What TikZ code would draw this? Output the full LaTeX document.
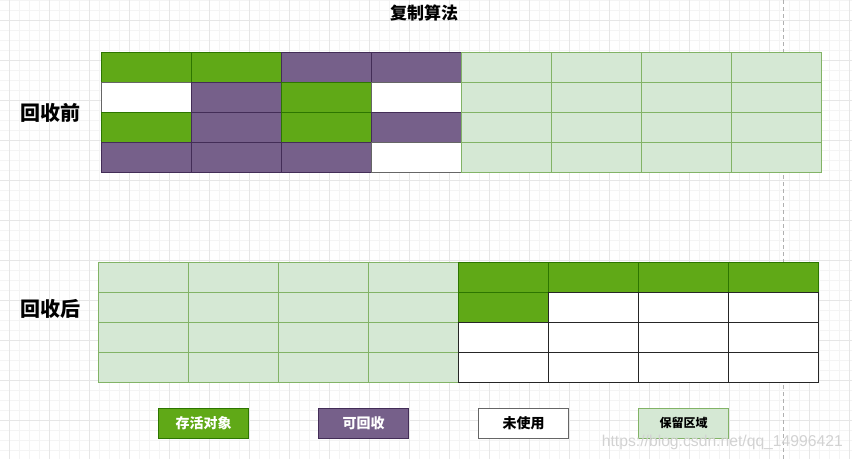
\documentclass[tikz,border=0pt]{standalone}
\usepackage{fontspec}
\setmainfont{Liberation Sans}
\newfontfamily\cjk{Noto Sans CJK SC}
\definecolor{gF}{HTML}{60A917}
\definecolor{gD}{HTML}{2D7600}
\definecolor{pF}{HTML}{76608A}
\definecolor{pD}{HTML}{432D57}
\definecolor{lF}{HTML}{D5E8D4}
\definecolor{lD}{HTML}{82B366}
\definecolor{wD}{HTML}{666666}
\definecolor{minorC}{HTML}{F4F4F4}
\definecolor{majorC}{HTML}{E6E6E6}
\definecolor{dashC}{HTML}{B0B0B0}
\definecolor{wmC}{HTML}{D2D2D2}
\tikzset{
  cellbase/.style={rectangle, minimum width=90pt, minimum height=30pt, inner sep=0pt, outer sep=0pt, line width=1pt},
  cellG/.style={cellbase, fill=gF, draw=gD},
  cellP/.style={cellbase, fill=pF, draw=pD},
  cellW/.style={cellbase, fill=white, draw=wD},
  cellB/.style={cellbase, fill=white, draw=black!85},
  cellL/.style={cellbase, fill=lF, draw=lD},
  sidelabel/.style={font=\cjk\bfseries\fontsize{20}{24}\selectfont, inner sep=0pt},
  legtext/.style={font=\cjk\bfseries\fontsize{14}{16}\selectfont},
}
\begin{document}
\begin{tikzpicture}[x=1pt,y=-1pt]
\useasboundingbox (0,0) rectangle (852,459);
\fill[white] (0,0) rectangle (852,459);
% background grid
\foreach \i in {0,...,85} \draw[minorC, line width=0.8pt] ({-0.7+10*\i},0) -- ({-0.7+10*\i},459);
\foreach \i in {0,...,45} \draw[minorC, line width=0.8pt] (0,{10*\i}) -- (852,{10*\i});
\foreach \i in {0,...,21} \draw[majorC, line width=0.8pt] ({9.3+40*\i},0) -- ({9.3+40*\i},459);
\foreach \i in {0,...,11} \draw[majorC, line width=0.8pt] (0,{20+40*\i}) -- (852,{20+40*\i});
% dashed guide
\coordinate (gtop) at (783.3,0);
\coordinate (gbot) at (783.3,459);
\draw[dashC, line width=0.8pt, dash pattern=on 4pt off 3pt] (gtop) -- (gbot);
% title
\node[font=\cjk\bfseries\fontsize{17}{20}\selectfont, inner sep=0pt] (title) at (424,13) {复制算法};
% top grid
\foreach \r/\row in {0/{G,G,P,P,L,L,L,L},1/{W,P,G,W,L,L,L,L},2/{G,P,G,P,L,L,L,L},3/{P,P,P,W,L,L,L,L}}{
  \foreach \s [count=\c from 0] in \row {
    \node[cell\s] (t-\r-\c) at ({101.7+45+90*\c},{52.3+15+30*\r}) {};
  }
}
% bottom grid
\foreach \r/\row in {0/{L,L,L,L,G,G,G,G},1/{L,L,L,L,G,B,B,B},2/{L,L,L,L,B,B,B,B},3/{L,L,L,L,B,B,B,B}}{
  \foreach \s [count=\c from 0] in \row {
    \node[cell\s] (b-\r-\c) at ({98.3+45+90*\c},{262.7+15+30*\r}) {};
  }
}
% side labels
\node[sidelabel] (before) at (50,113) {回收前};
\node[sidelabel] (after) at (50,309) {回收后};
% legend
\node[cellG, legtext, text=white] (leg1) at (203.5,423.3) {存活对象};
\node[cellP, legtext, text=white] (leg2) at (363.5,423.3) {可回收};
\node[cellbase, fill=white, draw=wD, line width=1.5pt, legtext] (leg3) at (523.5,423.3) {未使用};
\node[cellL, font=\cjk\bfseries\fontsize{12}{14}\selectfont] (leg4) at (683.5,423.3) {保留区域};
% watermark
\node[anchor=base west, inner sep=0pt, text=wmC, font=\fontsize{15.7}{18}\selectfont] (wm) at (601.7,446.7) {https://blog.csdn.net/qq\_14996421};
\end{tikzpicture}
\end{document}
